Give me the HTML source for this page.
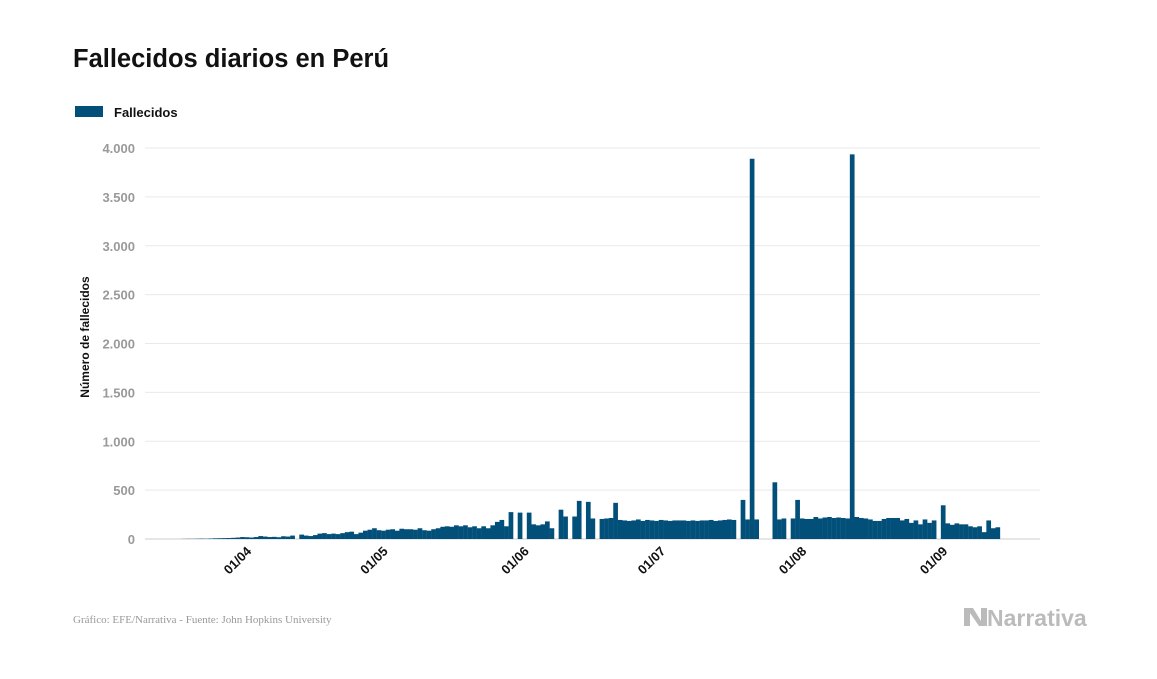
<!DOCTYPE html>
<html><head><meta charset="utf-8"><style>
body{margin:0;width:1157px;height:674px;background:#fff;font-family:"Liberation Sans",sans-serif;overflow:hidden}
</style></head><body>
<svg width="1157" height="674" xmlns="http://www.w3.org/2000/svg">
<text x="73" y="67" font-size="25.5" font-weight="bold" fill="#111">Fallecidos diarios en Perú</text>
<rect x="75" y="106" width="28" height="11" fill="#02507a"/>
<text x="114" y="117" font-size="13" font-weight="bold" fill="#111">Fallecidos</text>
<g id="grid"></g>
<g id="bars"></g>
<g id="xlab"></g>
<text transform="translate(89,337) rotate(-90)" text-anchor="middle" font-size="12" font-weight="bold" fill="#111">Número de fallecidos</text>
<text x="73" y="623" font-size="11" fill="#999" font-family="Liberation Serif,serif">Gráfico: EFE/Narrativa - Fuente: John Hopkins University</text>
<g>
<path d="M964 608 L973 608 L981 621 L981 608 L987 608 L987 626 L979 626 L970 613 L970 626 L964 626 Z" fill="#bbb"/>
<text x="987" y="626" font-size="23" font-weight="bold" fill="#bbb">Narrativa</text>
</g>
</svg>
<script>
const yTicks=[0,500,1000,1500,2000,2500,3000,3500,4000];
const yTickLabels=["0","500","1.000","1.500","2.000","2.500","3.000","3.500","4.000"];
const xTickDays=[13,43,74,104,135,166];
const xTickLabels=["01/04","01/05","01/06","01/07","01/08","01/09"];
const marVals=[1,2,2,3,4,3,5,7,8,9,10,12,15];
const aprVals=[20,18,15,20,30,25,20,22,18,28,25,35,0,45,35,30,40,55,60,50,55,50,60,70,75,50,65,85,95,110];
const mayVals=[90,85,95,100,85,105,100,100,95,110,90,85,100,110,125,130,125,140,130,140,120,130,110,130,110,140,175,195,130,275,0];
const junVals=[270,0,270,150,140,150,180,110,0,300,230,0,230,390,0,380,210,0,205,210,215,370,195,190,185,190,200,185,195,190];
const julVals=[185,195,190,185,190,190,190,185,190,185,190,190,195,185,190,195,200,195,0,400,200,3890,200,0,0,0,580,200,210,0,210];
const augVals=[400,210,205,205,225,210,220,225,215,220,215,210,3935,225,215,210,200,185,185,205,215,215,215,190,205,165,190,150,200,165,190];
const sepVals=[0,345,160,145,160,150,150,130,120,130,70,190,110,120];
const values=[].concat(marVals,aprVals,mayVals,junVals,julVals,augVals,sepVals);
const NS="http://www.w3.org/2000/svg";
const X0=181,DW=4.55,Y0=539,YT=148,L=145,R=1040;
const xs=d=>X0+d*DW;
const ys=v=>Y0-(v/4000)*(Y0-YT);
const grid=document.getElementById('grid');
yTicks.forEach((t,i)=>{
 const ln=document.createElementNS(NS,'line');
 ln.setAttribute('x1',L);ln.setAttribute('x2',R);ln.setAttribute('y1',ys(t));ln.setAttribute('y2',ys(t));
 ln.setAttribute('stroke',i==0?'#ccc':'#e9e9e9');ln.setAttribute('stroke-width','1');
 
 
 grid.appendChild(ln);
 const tx=document.createElementNS(NS,'text');
 tx.setAttribute('x',135);tx.setAttribute('y',ys(t)+5);tx.setAttribute('text-anchor','end');
 tx.setAttribute('font-size','13');tx.setAttribute('font-weight','bold');tx.setAttribute('fill','#999');
 tx.textContent=yTickLabels[i];
 
 
 grid.appendChild(tx);
});
const bars=document.getElementById('bars');
values.forEach((v,i)=>{
 if(!v)return;
 const r=document.createElementNS(NS,'rect');
 r.setAttribute('x',xs(i));r.setAttribute('width',DW+0.15);
 r.setAttribute('y',ys(v));r.setAttribute('height',Y0-ys(v));
 r.setAttribute('fill','#02507a');
 
 
 bars.appendChild(r);
});
const xl=document.getElementById('xlab');
xTickDays.forEach((d,i)=>{
 const tx=document.createElementNS(NS,'text');
 const x=xs(d)+12,y=552;
 tx.setAttribute('transform','translate('+x+','+y+') rotate(-45)');
 tx.setAttribute('text-anchor','end');tx.setAttribute('font-size','13');tx.setAttribute('font-weight','bold');tx.setAttribute('fill','#111');
 tx.textContent=xTickLabels[i];
 
 
 xl.appendChild(tx);
});
</script>
</body></html>
